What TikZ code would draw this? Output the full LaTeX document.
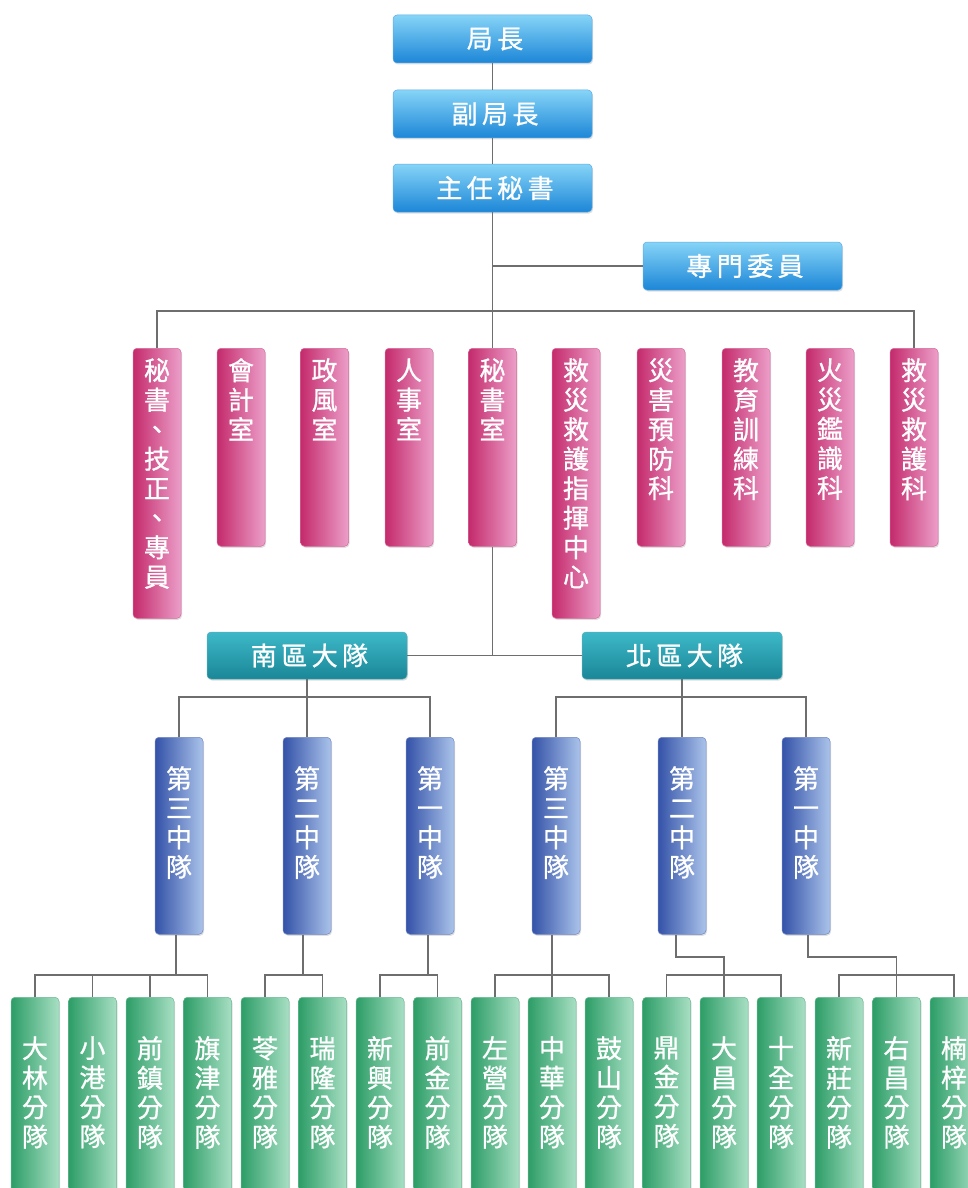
\documentclass[tikz,border=0pt]{standalone}
\usepackage{fontspec}
\setmainfont{Noto Sans CJK TC}[FakeBold=0.9]
\newfontfamily\widecjk[LetterSpace=17,FakeBold=0.9]{Noto Sans CJK TC}
\usetikzlibrary{shadows}
\definecolor{skytop}{HTML}{86D4F7}
\definecolor{skybot}{HTML}{1C86D7}
\definecolor{rosedark}{HTML}{C42A6C}
\definecolor{roselite}{HTML}{EC9FC9}
\definecolor{tealtop}{HTML}{3DB8C8}
\definecolor{tealbot}{HTML}{1A8797}
\definecolor{navydark}{HTML}{3452A8}
\definecolor{navylite}{HTML}{AAC3EA}
\definecolor{mintdark}{HTML}{2C9D66}
\definecolor{mintlite}{HTML}{A8DFC4}
\definecolor{wirecol}{HTML}{6E6E6E}
\def\vstack#1#2#3{\parbox[c][#1][t]{40pt}{\centering\vspace*{#2}#3\par}}
\tikzset{
	box/.style={rounded corners=4pt, inner sep=0pt, text=white, drop shadow={opacity=0.25, shadow xshift=1pt, shadow yshift=-1.5pt}},
	headbox/.style={box, minimum width=199pt, minimum height=48pt, top color=skytop, bottom color=skybot, draw=skybot!70!white, line width=0.5pt, font=\widecjk\fontsize{26pt}{26pt}\selectfont},
	regionbox/.style={box, minimum width=200pt, minimum height=47pt, top color=tealtop, bottom color=tealbot, draw=tealbot!70!white, line width=0.5pt, font=\widecjk\fontsize{26pt}{26pt}\selectfont},
	colbox/.style={box, anchor=north, minimum width=48pt, line width=0.5pt, font=\fontsize{26pt}{29.5pt}\selectfont},
	officebox/.style={colbox, left color=rosedark, right color=roselite, draw=rosedark!70!white},
	squadbox/.style={colbox, left color=navydark, right color=navylite, draw=navydark!70!white},
	unitbox/.style={colbox, left color=mintdark, right color=mintlite, draw=mintdark!70!white},
	wire/.style={draw=wirecol, line width=1.4pt}
}
\begin{document}
\begin{tikzpicture}[x=1pt, y=-1pt]
			%%%%% START %%%%%
			\path[use as bounding box] (0,0) rectangle (968,1188);
			\clip (0,0) rectangle (968,1188);
			
			\node[headbox] (chief) at (492.5, 39) {\kern5pt 局長};
			\node[headbox] (deputy) at (492.5, 114) {\kern5pt 副局長};
			\node[headbox] (secgen) at (492.5, 188) {\kern5pt 主任秘書};
			\node[headbox] (councilor) at (742.5, 266) {\kern5pt 專門委員};
			
			\node[officebox] (mjz) at (157, 348) {\vstack{270pt}{10pt}{秘\\書\\、\\技\\正\\、\\專\\員}};
			\node[officebox] (kuaiji) at (241, 348) {\vstack{198pt}{10pt}{會\\計\\室}};
			\node[officebox] (zhengfeng) at (324.5, 348) {\vstack{198pt}{10pt}{政\\風\\室}};
			\node[officebox] (renshi) at (409, 348) {\vstack{198pt}{10pt}{人\\事\\室}};
			\node[officebox] (mishu) at (492.5, 348) {\vstack{198pt}{10pt}{秘\\書\\室}};
			\node[officebox] (zhihui) at (576, 348) {\vstack{270pt}{10pt}{救\\災\\救\\護\\指\\揮\\中\\心}};
			\node[officebox] (yufang) at (661, 348) {\vstack{198pt}{10pt}{災\\害\\預\\防\\科}};
			\node[officebox] (jiaoyu) at (746, 348) {\vstack{198pt}{10pt}{教\\育\\訓\\練\\科}};
			\node[officebox] (jianshi) at (830, 348) {\vstack{198pt}{10pt}{火\\災\\鑑\\識\\科}};
			\node[officebox] (jiuhu) at (914, 348) {\vstack{198pt}{10pt}{救\\災\\救\\護\\科}};
			
			\node[regionbox] (south) at (307, 655.5) {\kern5pt 南區大隊};
			\node[regionbox] (north) at (682, 655.5) {\kern5pt 北區大隊};
			
			\node[squadbox] (s3) at (179, 737) {\vstack{197pt}{29pt}{第\\三\\中\\隊}};
			\node[squadbox] (s2) at (307, 737) {\vstack{197pt}{29pt}{第\\二\\中\\隊}};
			\node[squadbox] (s1) at (430, 737) {\vstack{197pt}{29pt}{第\\一\\中\\隊}};
			\node[squadbox] (n3) at (556, 737) {\vstack{197pt}{29pt}{第\\三\\中\\隊}};
			\node[squadbox] (n2) at (682, 737) {\vstack{197pt}{29pt}{第\\二\\中\\隊}};
			\node[squadbox] (n1) at (806, 737) {\vstack{197pt}{29pt}{第\\一\\中\\隊}};
			
			\node[unitbox] (dalin) at (35, 997) {\vstack{230pt}{39pt}{大\\林\\分\\隊}};
			\node[unitbox] (xiaogang) at (92.5, 997) {\vstack{230pt}{39pt}{小\\港\\分\\隊}};
			\node[unitbox] (qianzhen) at (150, 997) {\vstack{230pt}{39pt}{前\\鎮\\分\\隊}};
			\node[unitbox] (qijin) at (207.5, 997) {\vstack{230pt}{39pt}{旗\\津\\分\\隊}};
			\node[unitbox] (lingya) at (265, 997) {\vstack{230pt}{39pt}{苓\\雅\\分\\隊}};
			\node[unitbox] (ruilong) at (322.5, 997) {\vstack{230pt}{39pt}{瑞\\隆\\分\\隊}};
			\node[unitbox] (xinxing) at (380, 997) {\vstack{230pt}{39pt}{新\\興\\分\\隊}};
			\node[unitbox] (qianjin) at (437.5, 997) {\vstack{230pt}{39pt}{前\\金\\分\\隊}};
			\node[unitbox] (zuoying) at (495, 997) {\vstack{230pt}{39pt}{左\\營\\分\\隊}};
			\node[unitbox] (zhonghua) at (552, 997) {\vstack{230pt}{39pt}{中\\華\\分\\隊}};
			\node[unitbox] (gushan) at (609, 997) {\vstack{230pt}{39pt}{鼓\\山\\分\\隊}};
			\node[unitbox] (dingjin) at (666.5, 997) {\vstack{230pt}{39pt}{鼎\\金\\分\\隊}};
			\node[unitbox] (dachang) at (724, 997) {\vstack{230pt}{39pt}{大\\昌\\分\\隊}};
			\node[unitbox] (shiquan) at (781, 997) {\vstack{230pt}{39pt}{十\\全\\分\\隊}};
			\node[unitbox] (xinzhuang) at (839, 997) {\vstack{230pt}{39pt}{新\\莊\\分\\隊}};
			\node[unitbox] (youchang) at (896.5, 997) {\vstack{230pt}{39pt}{右\\昌\\分\\隊}};
			\node[unitbox] (nanzi) at (954, 997) {\vstack{230pt}{39pt}{楠\\梓\\分\\隊}};
			
			\coordinate (bus) at (0, 311);
			\coordinate (sbar) at (0, 697);
			\coordinate (gjog) at (0, 957);
			\coordinate (gbar) at (0, 975);
			
			\draw[wire] (chief) -- (deputy);
			\draw[wire] (deputy) -- (secgen);
			\draw[wire] (secgen) -- (mishu);
			\draw[wire] (secgen.south |- councilor.west) -- (councilor.west);
			\draw[wire] (mjz.north) |- (bus -| jiuhu.north) -- (jiuhu.north);
			\draw[wire] (mishu.south) -- (mishu.south |- south.east);
			\draw[wire] (south.east) -- (north.west);
			
			\draw[wire] (s3.north) |- (sbar -| s1.north) -- (s1.north);
			\draw[wire] (south) -- (s2);
			\draw[wire] (n3.north) |- (sbar -| n1.north) -- (n1.north);
			\draw[wire] (north) -- (n2);
			
			\draw[wire] (dalin.north) |- (gbar -| qijin.north) -- (qijin.north);
			\draw[wire] (xiaogang.north) -- (xiaogang.north |- gbar);
			\draw[wire] (qianzhen.north) -- (qianzhen.north |- gbar);
			\draw[wire] ([xshift=-3pt]s3.south) -- ([xshift=-3pt]s3.south |- gbar);
			
			\draw[wire] (lingya.north) |- (gbar -| ruilong.north) -- (ruilong.north);
			\draw[wire] ([xshift=-4pt]s2.south) -- ([xshift=-4pt]s2.south |- gbar);
			
			\draw[wire] (xinxing.north) |- (gbar -| qianjin.north) -- (qianjin.north);
			\draw[wire] ([xshift=-2pt]s1.south) -- ([xshift=-2pt]s1.south |- gbar);
			
			\draw[wire] (zuoying.north) |- (gbar -| gushan.north) -- (gushan.north);
			\draw[wire] (n3.south -| zhonghua.north) -- (zhonghua.north);
			
			\draw[wire] (dingjin.north) |- (gbar -| shiquan.north) -- (shiquan.north);
			\draw[wire] ([xshift=-6pt]n2.south) |- (gjog -| dachang.north) -- (dachang.north);
			
			\draw[wire] (xinzhuang.north) |- (gbar -| nanzi.north) -- (nanzi.north);
			\draw[wire] ([xshift=2pt]n1.south) |- (gjog -| youchang.north) -- (youchang.north);
			%%%%% END %%%%%
\end{tikzpicture}
\end{document}
